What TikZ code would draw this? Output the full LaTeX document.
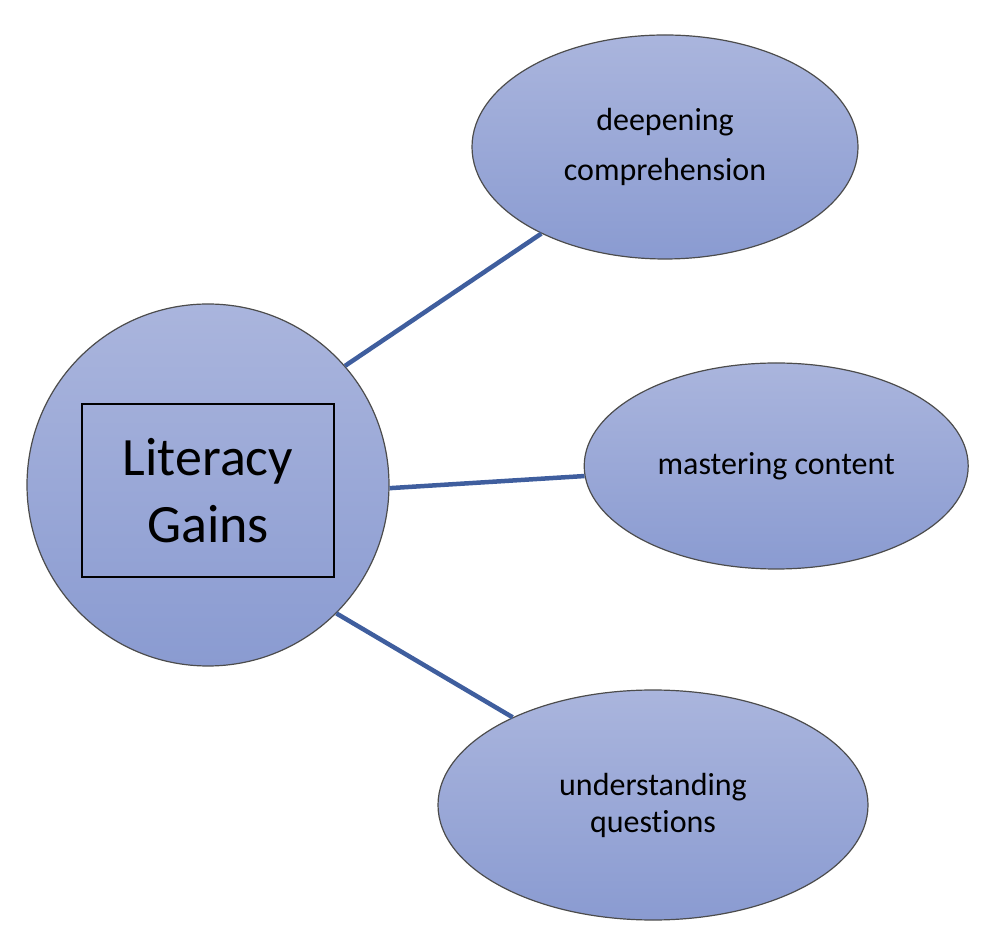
\documentclass[tikz,border=0pt]{standalone}
\usepackage{fontspec}
\setmainfont{Carlito}[Ligatures={NoCommon}]
\usepackage{tikz}
\usetikzlibrary{shapes.geometric,positioning,calc}
\definecolor{bubTop}{HTML}{AAB5DD}
\definecolor{bubBot}{HTML}{8A9BD1}
\definecolor{linkBlue}{HTML}{3F5E9E}

\begin{document}
\begin{tikzpicture}[
    x=1pt, y=1pt,
    bubble/.style={ellipse, draw=black!70, line width=1.2pt, top color=bubTop, bottom color=bubBot, align=center, inner sep=0pt},
    hub/.style={circle, draw=black!70, line width=1.2pt, top color=bubTop, bottom color=bubBot, minimum size=362pt, inner sep=0pt},
    titlebox/.style={draw, line width=1.6pt, minimum width=252pt, minimum height=173pt, align=center, font=\fontsize{54}{67}\selectfont},
    link/.style={draw=linkBlue, line width=4.5pt}
]
    \useasboundingbox (0,0) rectangle (984,950);

    \node[hub] (gains) at (208,465) {};
    \node[titlebox] (title) at (208,459.5) {Literacy\\Gains};

    \node[bubble, minimum width=386pt, minimum height=224pt, font=\fontsize{32}{50}\selectfont] (deep) at (665,803) {deepening\\comprehension};
    \node[bubble, minimum width=384pt, minimum height=206pt, font=\fontsize{32}{38}\selectfont, right=194pt of gains, yshift=19pt] (master) {mastering content};
    \node[bubble, minimum width=430pt, minimum height=230pt, font=\fontsize{32}{37}\selectfont] (under) at (653,145) {understanding\\questions};

    \draw[link] (gains.41.7) -- (deep.215);
    \draw[link] (gains.-1.3) -- (master.183.3);
    \draw[link] (gains.-45.4) -- (under.148.7);
\end{tikzpicture}
\end{document}
